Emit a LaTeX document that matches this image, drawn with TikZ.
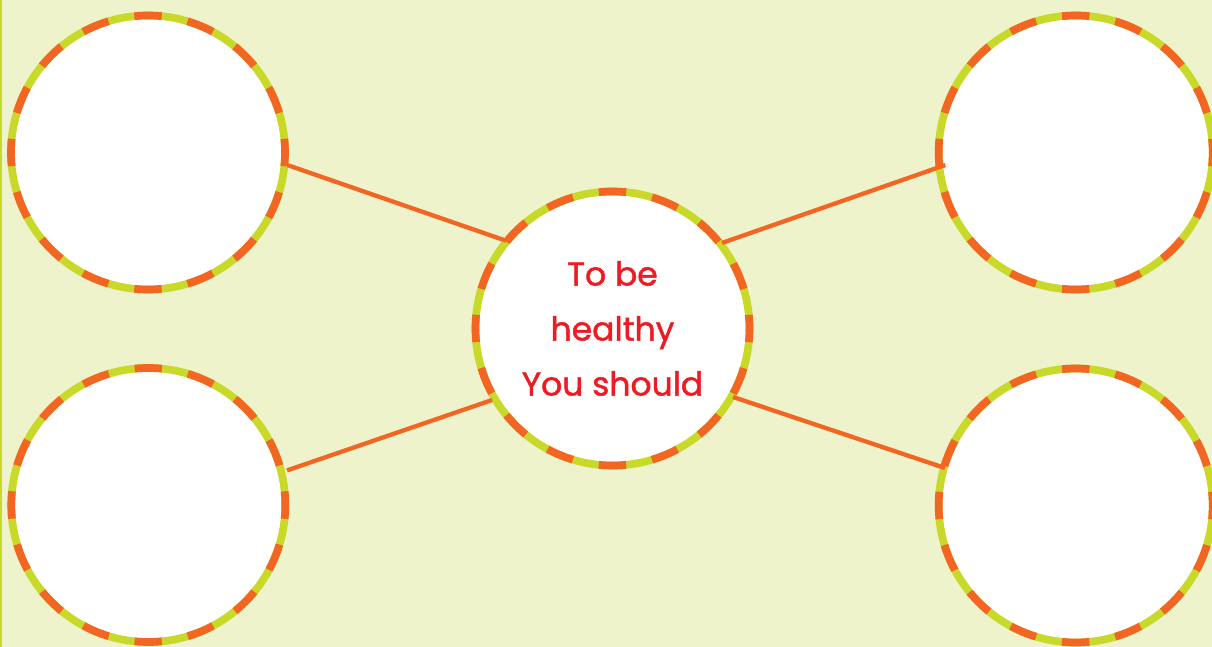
\documentclass[tikz,border=0pt]{standalone}
\usepackage{fontspec}
\setmainfont{Poppins}
\newfontfamily\labelfont[FakeBold=1.4]{Poppins}
\usetikzlibrary{calc}
\definecolor{bgcol}{RGB}{238,243,204}
\definecolor{ringgreen}{RGB}{200,217,41}
\definecolor{ringorange}{RGB}{242,101,34}
\definecolor{textred}{RGB}{237,28,36}
\tikzset{
  hub/.style={circle, minimum size=281pt, inner sep=0pt, outer sep=0pt},
  ringbase/.style={draw=ringgreen, line width=7.7pt, fill=white},
  ringdash/.style={draw=ringorange, line width=7.7pt, dash pattern=on 27.4pt off 26.4pt, dash phase=13.7pt},
  link/.style={draw=ringorange, line width=4.3pt},
  label/.style={text=textred, font=\labelfont\fontsize{33}{55}\selectfont, align=center}
}
\begin{document}
\begin{tikzpicture}[x=1pt,y=1pt]
\useasboundingbox (0,0) rectangle (1212,-647);
\fill[bgcol] (0,0) rectangle (1212,-647);
\draw[ringgreen, line width=1.5pt] (0.75,0) -- (0.75,-647);
% nodes
\node[hub] (tl) at (148,-152.5) {};
\node[hub] (bl) at (148.3,-505) {};
\node[hub] (tr) at (1075.7,-152.5) {};
\node[hub] (br) at (1075.7,-505.5) {};
\node[hub] (c) at (612.5,-328.5) {};
% rings
\foreach \n in {tl,bl,tr,br,c}{
  \path[ringbase] (\n) circle[radius=137];
  \path[ringdash] (\n) circle[radius=137];
}
% connectors
\coordinate (tlA) at ($(tl)+(-5.2:140.5)$);
\coordinate (cA) at ($(c)+(140.5:138)$);
\coordinate (cB) at ($(c)+(38:139)$);
\coordinate (trA) at ($(tr)+(185.5:131)$);
\coordinate (blA) at ($(bl)+(14:143)$);
\coordinate (cC) at ($(c)+(210.7:140)$);
\coordinate (cD) at ($(c)+(-29.6:138.6)$);
\coordinate (brA) at ($(br)+(164:136)$);
\draw[link] (tlA) -- (cA);
\draw[link] (cB) -- (trA);
\draw[link] (blA) -- (cC);
\draw[link] (cD) -- (brA);
% text
\node[label] (t) at (c) {To be\\healthy\\You should};
\end{tikzpicture}
\end{document}
